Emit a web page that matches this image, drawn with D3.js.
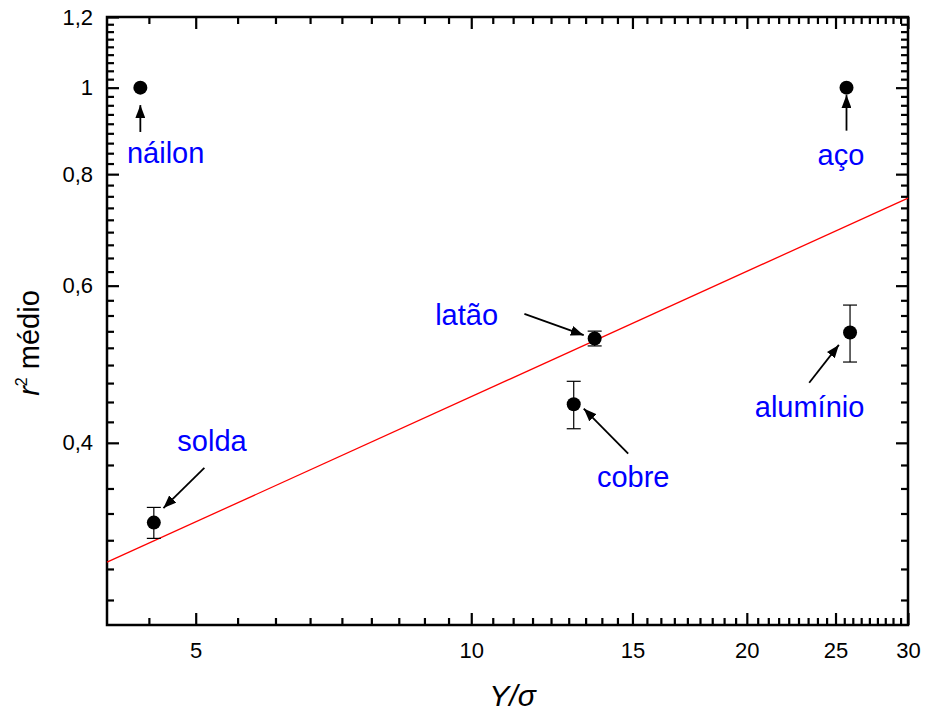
<!DOCTYPE html>
<html>
<head>
<meta charset="utf-8">
<script src="https://cdn.jsdelivr.net/npm/d3@7"></script>
<style>
  body { margin: 0; background: #fff; }
  svg { display: block; font-family: "Liberation Sans", Arial, Helvetica, sans-serif; }
</style>
</head>
<body>
<div class="chart"></div>
<script>
// Data
var materials = ["náilon", "solda", "cobre", "latão", "alumínio", "aço"];
var yOverSigma = [4.35, 4.50, 12.94, 13.64, 25.93, 25.7];
var r2Mean = [1.0, 0.3256, 0.4418, 0.5236, 0.5317, 1.0];
var r2Err = [0, 0.013, 0.027, 0.010, 0.039, 0];

// Fitted power law (straight line on log-log), end points
var fitX = [4, 30];
var fitY = [0.294, 0.752];

// Annotation anchors, in data units
var labelX = [4.636, 5.209, 15.03, 9.883, 23.42, 25.34];
var labelY = [0.8225, 0.3917, 0.3568, 0.542, 0.4277, 0.819];
var arrowFromX = [4.35, 5.11, 14.84, 11.43, 23.4, 25.7];
var arrowFromY = [0.892, 0.375, 0.389, 0.558, 0.467, 0.895];
var arrowToX = [4.35, 4.61, 13.27, 13.27, 25.21, 25.7];
var arrowToY = [0.956, 0.338, 0.437, 0.528, 0.515, 0.981];

// Axis ticks
var xTicks = [5, 10, 15, 20, 25, 30];
var yTicks = [0.4, 0.6, 0.8, 1.0, 1.2];

var width = 925, height = 713;
var margin = { top: 17, right: 17, bottom: 88, left: 107 };
var innerW = width - margin.left - margin.right;
var innerH = height - margin.top - margin.bottom;

var svg = d3.select(".chart").append("svg")
  .attr("width", width)
  .attr("height", height);

var g = svg.append("g")
  .attr("transform", "translate(" + margin.left + "," + margin.top + ")");

var x = d3.scaleLog().domain([4, 30]).range([0, innerW]);
var y = d3.scaleLog().domain([0.25, 1.2]).range([innerH, 0]);

// Minor ticks: 8 between each pair of majors (Origin style)
var xMinor = [];
[0, 5, 10, 15, 20, 25].forEach(function(a) {
  for (var k = 1; k <= 8; k++) xMinor.push(a + k * 5 / 9);
});
xMinor = xMinor.filter(function(v) { return v > 4 && v < 30; });
var yMinor = [];
[0.2, 0.4, 0.6, 0.8, 1.0].forEach(function(a) {
  for (var k = 1; k <= 8; k++) yMinor.push(a + k * 0.2 / 9);
});
yMinor = yMinor.filter(function(v) { return v > 0.25 && v < 1.2; });

var commaFmt = function(d) { return String(+d.toFixed(2)).replace(".", ","); };
var noLabel = function() { return ""; };

function styleAxis(sel, showText) {
  sel.select(".domain").remove();
  sel.selectAll(".tick line").attr("stroke", "#000").attr("stroke-width", 2.2);
  sel.selectAll(".tick text")
    .attr("fill", "#000")
    .style("font-size", "22px")
    .style("display", showText ? null : "none");
}

// bottom / top / left / right axes, ticks pointing inward
var axes = [
  { ax: d3.axisBottom(x), tr: "translate(0," + innerH + ")", ticks: xTicks, minor: xMinor, fmt: String, text: true, pad: 17 },
  { ax: d3.axisTop(x), tr: "translate(0,0)", ticks: xTicks, minor: xMinor, fmt: noLabel, text: false, pad: 3 },
  { ax: d3.axisLeft(y), tr: "translate(0,0)", ticks: yTicks, minor: yMinor, fmt: commaFmt, text: true, pad: 14 },
  { ax: d3.axisRight(y), tr: "translate(" + innerW + ",0)", ticks: yTicks, minor: yMinor, fmt: noLabel, text: false, pad: 3 }
];
axes.forEach(function(a) {
  var minorAx = a.ax.copy ? a.ax : a.ax;
  g.append("g")
    .attr("transform", a.tr)
    .call(a.ax.tickValues(a.minor).tickFormat(noLabel).tickSizeInner(-7).tickSizeOuter(0))
    .call(function(s) { styleAxis(s, false); });
  g.append("g")
    .attr("transform", a.tr)
    .call(a.ax.tickValues(a.ticks).tickFormat(a.fmt).tickSizeInner(-12).tickSizeOuter(0).tickPadding(a.pad))
    .call(function(s) { styleAxis(s, a.text); });
});

// Frame
g.append("rect")
  .attr("width", innerW)
  .attr("height", innerH)
  .attr("fill", "none")
  .attr("stroke", "#000")
  .attr("stroke-width", 2.5);

// Fit line
g.append("path")
  .datum(d3.zip(fitX, fitY))
  .attr("fill", "none")
  .attr("stroke", "#ff0000")
  .attr("stroke-width", 1.3)
  .attr("d", d3.line().x(function(d) { return x(d[0]); }).y(function(d) { return y(d[1]); }));

var points = materials.map(function(m, i) {
  return { name: m, x: yOverSigma[i], y: r2Mean[i], e: r2Err[i] };
});

// Error bars
var eb = g.selectAll(".errbar")
  .data(points.filter(function(d) { return d.e > 0; }))
  .enter().append("g")
  .attr("class", "errbar")
  .attr("stroke", "#000")
  .attr("stroke-width", 1.2);
eb.append("line")
  .attr("x1", function(d) { return x(d.x); })
  .attr("x2", function(d) { return x(d.x); })
  .attr("y1", function(d) { return y(d.y - d.e); })
  .attr("y2", function(d) { return y(d.y + d.e); });
[-1, 1].forEach(function(s) {
  eb.append("line")
    .attr("x1", function(d) { return x(d.x) - 7; })
    .attr("x2", function(d) { return x(d.x) + 7; })
    .attr("y1", function(d) { return y(d.y + s * d.e); })
    .attr("y2", function(d) { return y(d.y + s * d.e); });
});

// Markers
g.selectAll(".pt")
  .data(points)
  .enter().append("circle")
  .attr("class", "pt")
  .attr("cx", function(d) { return x(d.x); })
  .attr("cy", function(d) { return y(d.y); })
  .attr("r", 7)
  .attr("fill", "#000");

// Arrow head
svg.append("defs").append("marker")
  .attr("id", "head")
  .attr("markerUnits", "userSpaceOnUse")
  .attr("viewBox", "0 0 13 10")
  .attr("markerWidth", 13)
  .attr("markerHeight", 10)
  .attr("refX", 13)
  .attr("refY", 5)
  .attr("orient", "auto")
  .append("path")
  .attr("d", "M0,0 L13,5 L0,10 Z")
  .attr("fill", "#000");

// Annotation arrows
g.selectAll(".arrow")
  .data(materials)
  .enter().append("line")
  .attr("class", "arrow")
  .attr("x1", function(d, i) { return x(arrowFromX[i]); })
  .attr("y1", function(d, i) { return y(arrowFromY[i]); })
  .attr("x2", function(d, i) { return x(arrowToX[i]); })
  .attr("y2", function(d, i) { return y(arrowToY[i]); })
  .attr("stroke", "#000")
  .attr("stroke-width", 1.8)
  .attr("marker-end", "url(#head)");

// Annotation labels
g.selectAll(".lbl")
  .data(materials)
  .enter().append("text")
  .attr("class", "lbl")
  .attr("x", function(d, i) { return x(labelX[i]); })
  .attr("y", function(d, i) { return y(labelY[i]); })
  .attr("text-anchor", "middle")
  .attr("fill", "#0000ff")
  .style("font-size", "29px")
  .text(function(d) { return d; });

// X axis title
var xt = svg.append("text")
  .attr("x", margin.left + innerW / 2 + 5)
  .attr("y", 706)
  .attr("text-anchor", "middle")
  .style("font-size", "30px")
  .style("font-style", "italic");
xt.append("tspan").text("Y/");
xt.append("tspan").text("σ");

// Y axis title
var yt = svg.append("text")
  .attr("transform", "translate(39,343) rotate(-90)")
  .attr("text-anchor", "middle")
  .style("font-size", "29px");
yt.append("tspan").style("font-style", "italic").text("r");
yt.append("tspan").attr("dy", -12).style("font-size", "16px").text("2");
yt.append("tspan").attr("dy", 12).text(" médio");
</script>
</body>
</html>
